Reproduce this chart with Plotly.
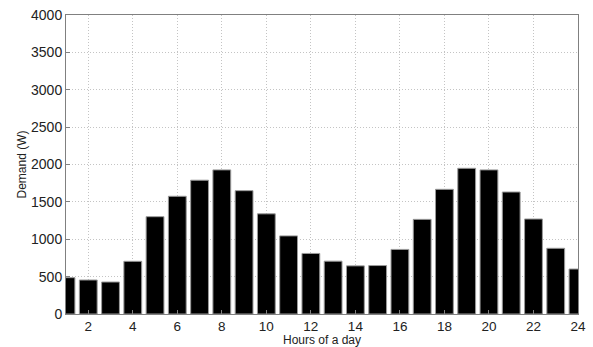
import plotly.graph_objects as go

hours = list(range(1, 25))
demand = [486, 455, 428, 705, 1302, 1575, 1790, 1928, 1650, 1340,
          1045, 810, 707, 644, 648, 864, 1266, 1668, 1949, 1928,
          1632, 1271, 879, 602]
x_ticks = list(range(2, 25, 2))
y_ticks = list(range(0, 4001, 500))

fig = go.Figure(go.Bar(
    x=hours, y=demand, width=0.8,
    marker=dict(color="black", line=dict(color="#9a9a9a", width=1)),
))

font = "Liberation Sans, Arial, sans-serif"
fig.update_layout(
    width=593, height=347,
    margin=dict(l=66, r=15, t=15, b=33, autoexpand=False),
    plot_bgcolor="white", paper_bgcolor="white",
    showlegend=False,
    font=dict(family=font, color="#222", size=13),
    annotations=[
        dict(text="Hours of a day", x=0.5, y=-0.056, xref="paper", yref="paper",
             xanchor="center", yanchor="top", showarrow=False,
             font=dict(size=12, color="#222")),
        dict(text="Demand (W)", x=-0.086, y=0.5, xref="paper", yref="paper",
             xanchor="center", yanchor="middle", textangle=-90, showarrow=False,
             font=dict(size=12, color="#222")),
    ],
)
fig.update_xaxes(
    range=[1, 24], tickvals=x_ticks, ticktext=[str(v) for v in x_ticks],
    showgrid=True, gridcolor="#c4c4c4", griddash="1px,2px", gridwidth=1,
    showline=True, linecolor="#808080", linewidth=1, mirror=True,
    ticks="inside", ticklen=4, tickcolor="#808080",
    tickfont=dict(size=13.5), zeroline=False, automargin=False,
)
fig.update_yaxes(
    range=[0, 4000], tickvals=y_ticks, ticktext=[str(v) for v in y_ticks],
    showgrid=True, gridcolor="#c4c4c4", griddash="1px,2px", gridwidth=1,
    showline=True, linecolor="#808080", linewidth=1, mirror=True,
    ticks="inside", ticklen=4, tickcolor="#808080",
    tickfont=dict(size=14), zeroline=False, automargin=False,
)
fig.write_html("out.html", post_script="document.body.style.margin='0';",
               config={"displayModeBar": False})
